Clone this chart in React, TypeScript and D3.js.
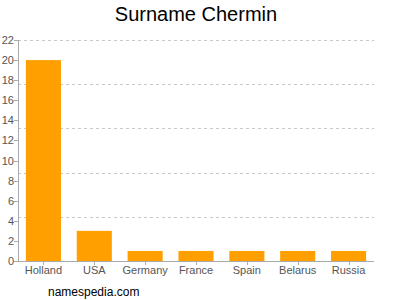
import React from "react";
import * as d3 from "d3";

const categories = ["Holland", "USA", "Germany", "France", "Spain", "Belarus", "Russia"];
const values = [20, 3, 1, 1, 1, 1, 1];
const yTicks = [0, 2, 4, 6, 8, 10, 12, 14, 16, 18, 20, 22];
const gridValues = [4.4, 8.8, 13.2, 17.6, 22];
const title = "Surname Chermin";
const footer = "namespedia.com";

export default function App() {
  const W = 400, H = 300;
  const left = 18, right = 374, top = 40, bottom = 261;
  const x = d3.scaleBand<string>().domain(categories).range([left, right]).paddingInner(0.31).paddingOuter(0.155);
  const y = d3.scaleLinear().domain([0, 22]).range([bottom, top]);
  const font = "Arial, 'Liberation Sans', sans-serif";
  return (
    <svg width={W} height={H} style={{ position: "absolute", left: 0, top: 0, background: "#fff" }} fontFamily={font}>
      <text x={196} y={21} textAnchor="middle" fontSize={20} fill="#000">{title}</text>
      {gridValues.map((g) => (
        <line key={g} x1={left} x2={right} y1={Math.round(y(g)) + 0.5} y2={Math.round(y(g)) + 0.5} stroke="#c8c8c8" strokeDasharray="3,3" />
      ))}
      {categories.map((c, i) => (
        <rect key={c} x={x(c)} y={y(values[i])} width={x.bandwidth()} height={bottom - y(values[i])} fill="#FFA000" />
      ))}
      <line x1={left + 0.5} x2={left + 0.5} y1={top} y2={bottom} stroke="#aaa" />
      <line x1={left} x2={right} y1={bottom + 0.5} y2={bottom + 0.5} stroke="#aaa" />
      {yTicks.map((t) => (
        <g key={t}>
          <line x1={left - 4} x2={left} y1={Math.round(y(t)) + 0.5} y2={Math.round(y(t)) + 0.5} stroke="#aaa" />
          <text x={left - 4} y={y(t) + 4} textAnchor="end" fontSize={11} fill="#555">{t}</text>
        </g>
      ))}
      {categories.map((c) => {
        const cx = (x(c) as number) + x.bandwidth() / 2;
        return (
          <g key={c}>
            <line x1={Math.round(cx) + 0.5} x2={Math.round(cx) + 0.5} y1={bottom} y2={bottom + 4} stroke="#aaa" />
            <text x={cx} y={274} textAnchor="middle" fontSize={11} fill="#555">{c}</text>
          </g>
        );
      })}
      <text x={48} y={296} fontSize={12} fill="#000">{footer}</text>
    </svg>
  );
}
